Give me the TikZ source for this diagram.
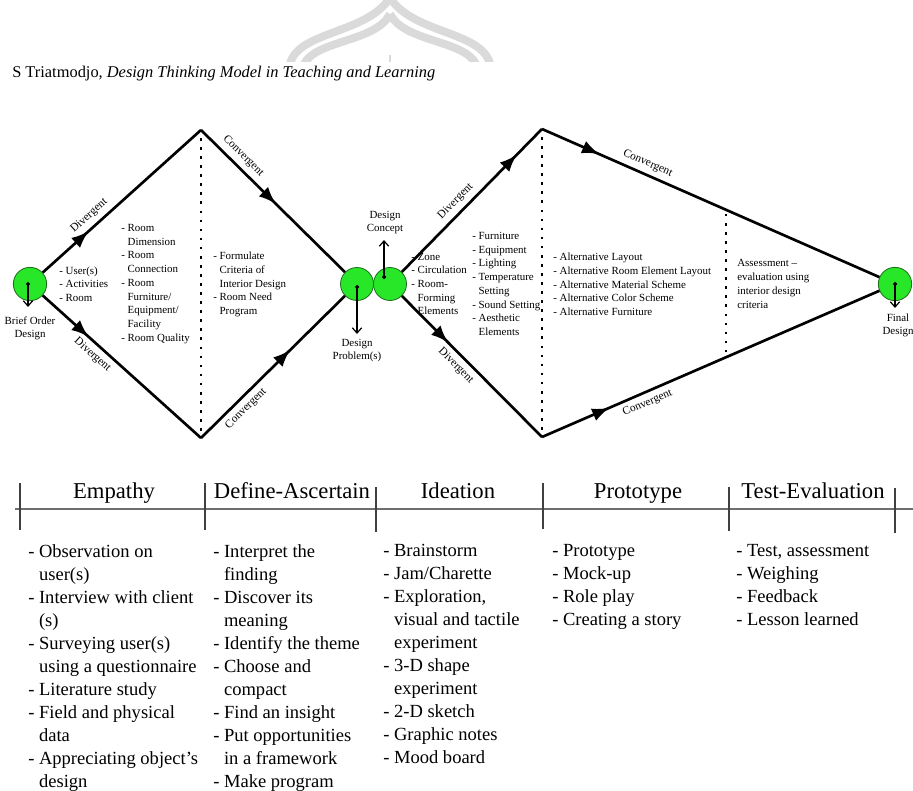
\documentclass[tikz,border=0pt]{standalone}
\usepackage{fontspec}
\setmainfont{Liberation Serif}
\usetikzlibrary{arrows.meta,decorations.markings}
\definecolor{gfill}{RGB}{40,230,40}
\definecolor{gedge}{RGB}{30,110,30}
\definecolor{wmark}{RGB}{218,218,218}
\definecolor{tabgray}{RGB}{110,110,110}
\tikzset{
  flow/.style={line width=2pt},
  midarrow/.style={postaction={decorate,decoration={markings,mark=at position #1 with {\arrow{Latex[length=13pt,width=10pt]}}}}},
  dotline/.style={line width=2pt,dash pattern=on 2pt off 4.8pt,shorten <=6pt,shorten >=4pt},
  circ/.style={circle,inner sep=0pt,minimum size=25pt,fill=gfill,draw=gedge,line width=0.6pt},
  pinarrow/.style={line width=0.9pt,{Circle[length=3pt]}-{Straight Barb[length=4pt,width=7pt]}},
  lbl/.style={font=\fontsize{8.5}{10}\selectfont,inner sep=3.5pt},
  smalltxt/.style={font=\fontsize{8.2}{10.3}\selectfont,align=left,inner sep=0pt,anchor=west},
  ctxt/.style={font=\fontsize{8.2}{9.8}\selectfont,align=center,inner sep=0pt},
  headtxt/.style={font=\fontsize{17}{20}\selectfont,inner sep=0pt,anchor=base},
  listtxt/.style={font=\fontsize{13.9}{17.25}\selectfont,align=left,inner sep=0pt,anchor=north west},
  tabline/.style={line width=1pt,draw=tabgray},
  tick/.style={line width=1pt,draw=black!75}
}
\newcommand{\ind}{\hphantom{- }}
\begin{document}
\begin{tikzpicture}[x=0.75pt,y=-0.75pt]
\useasboundingbox (0,0) rectangle (913,791);

% watermark
\begin{scope}
\clip (240,0) rectangle (540,62);
\draw[wmark,line width=6pt] (290,64) .. controls (298,30) and (372,34) .. (392,-6);
\draw[wmark,line width=6pt] (490,64) .. controls (482,30) and (408,34) .. (388,-6);
\draw[wmark,line width=6pt] (304,64) .. controls (316,40) and (376,42) .. (390,14);
\draw[wmark,line width=6pt] (476,64) .. controls (464,40) and (404,42) .. (390,14);
\draw[wmark,line width=1.5pt] (390,55) -- (390,62);
\end{scope}

% running head
\node[anchor=base west,inner sep=0pt,font=\fontsize{12.3}{14}\selectfont] (head) at (12,78)
  {S Triatmodjo, \textit{Design Thinking Model in Teaching and Learning}};

% circles
\node[circ] (c1) at (30,284) {};
\node[circ,minimum size=24.75pt] (c2) at (357,284) {};
\node[circ,minimum size=24.75pt] (c3) at (390,284) {};
\node[circ] (c4) at (895,284) {};

% vertices
\coordinate (t1) at (201,130);
\coordinate (b1) at (201,438);
\coordinate (t2) at (542,129);
\coordinate (b2) at (542,437);
\coordinate (p1) at (726,208.5);
\coordinate (p2) at (726,357);

% dotted separators
\draw[dotline] (t1) -- (b1);
\draw[dotline] (t2) -- (b2);
\draw[dotline,shorten <=4pt,shorten >=2pt] (p1) -- (p2);

% main flow lines
\draw[flow,midarrow=0.29] (c1) -- node[lbl,sloped,above,pos=0.34] {Divergent} (t1);
\draw[flow,midarrow=0.29] (c1) -- node[lbl,sloped,below,pos=0.36] {Divergent} (b1);
\draw[flow,midarrow=0.52] (t1) -- node[lbl,sloped,above,pos=0.24] {Convergent} (c2);
\draw[flow,midarrow=0.62] (b1) -- node[lbl,sloped,below,pos=0.26] {Convergent} (c2);
\draw[flow,midarrow=0.82] (c3) -- node[lbl,sloped,above,pos=0.44] {Divergent} (t2);
\draw[flow,midarrow=0.33] (c3) -- node[lbl,sloped,below,pos=0.44] {Divergent} (b2);
\draw[flow,midarrow=0.17] (t2) -- node[lbl,sloped,above,pos=0.30] {Convergent} (c4);
\draw[flow,midarrow=0.20] (b2) -- node[lbl,sloped,below,pos=0.30] {Convergent} (c4);

% pin arrows
\coordinate (s1) at (28,282);  \coordinate (e1) at (28,307);
\coordinate (s2) at (357,285); \coordinate (e2) at (357,334);
\coordinate (s3) at (384,279); \coordinate (e3) at (384,240);
\coordinate (s4) at (895,282); \coordinate (e4) at (895,308);
\draw[pinarrow] (s1) -- (e1);
\draw[pinarrow] (s2) -- (e2);
\draw[pinarrow] (s3) -- (e3);
\draw[pinarrow] (s4) -- (e4);
\node[ctxt] (bod) at (30,328) {Brief Order\\Design};
\node[ctxt] (dp) at (357,351) {Design\\Problem(s)};
\node[ctxt] (dc) at (385,223) {Design\\Concept};
\node[ctxt] (fd) at (898,325) {Final\\Design};

% diagram lists
\node[smalltxt] (la) at (59,284) {- User(s)\\- Activities\\- Room};
\node[smalltxt] (lb) at (121,284) {- Room\\\ind Dimension\\- Room\\\ind Connection\\- Room\\\ind Furniture/\\\ind Equipment/\\\ind Facility\\- Room Quality};
\node[smalltxt] (lc) at (213,284.5) {- Formulate\\\ind Criteria of\\\ind Interior Design\\- Room Need\\\ind Program};
\node[smalltxt] (ld) at (411,284) {- Zone\\- Circulation\\- Room-\\\ind Forming\\\ind Elements};
\node[smalltxt] (le) at (472,284) {- Furniture\\- Equipment\\- Lighting\\- Temperature\\\ind Setting\\- Sound Setting\\- Aesthetic\\\ind Elements};
\node[smalltxt] (lf) at (553,284.5) {- Alternative Layout\\- Alternative Room Element Layout\\- Alternative Material Scheme\\- Alternative Color Scheme\\- Alternative Furniture};
\node[smalltxt] (lg) at (737,284) {Assessment --\\evaluation using\\interior design\\criteria};

% table
\draw[tabline] (15,509) -- (913,509);
\draw[tick] (20,483) -- (20,530);
\draw[tick] (205,483) -- (205,530);
\draw[tick] (376,487) -- (376,532);
\draw[tick] (543,483) -- (543,529);
\draw[tick] (729,487) -- (729,531);
\draw[tick] (895,488) -- (895,533);

\node[headtxt] (h1) at (114,498) {Empathy};
\node[headtxt] (h2) at (292,498) {Define-Ascertain};
\node[headtxt] (h3) at (458,498) {Ideation};
\node[headtxt] (h4) at (638,498) {Prototype};
\node[headtxt] (h5) at (813,498) {Test-Evaluation};

\node[listtxt] (t1list) at (28,544) {- Observation on\\\ind user(s)\\- Interview with client\\\ind (s)\\- Surveying user(s)\\\ind using a questionnaire\\- Literature study\\- Field and physical\\\ind data\\- Appreciating object’s\\\ind design};
\node[listtxt] (t2list) at (213,544) {- Interpret the\\\ind finding\\- Discover its\\\ind meaning\\- Identify the theme\\- Choose and\\\ind compact\\- Find an insight\\- Put opportunities\\\ind in a framework\\- Make program};
\node[listtxt] (t3list) at (383,544) {- Brainstorm\\- Jam/Charette\\- Exploration,\\\ind visual and tactile\\\ind experiment\\- 3-D shape\\\ind experiment\\- 2-D sketch\\- Graphic notes\\- Mood board};
\node[listtxt] (t4list) at (552,544) {- Prototype\\- Mock-up\\- Role play\\- Creating a story};
\node[listtxt] (t5list) at (736,544) {- Test, assessment\\- Weighing\\- Feedback\\- Lesson learned};
\end{tikzpicture}
\end{document}
